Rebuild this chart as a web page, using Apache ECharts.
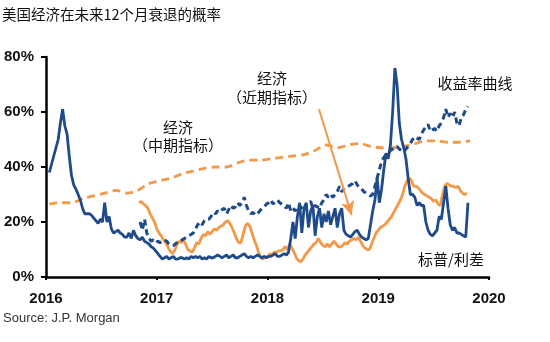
<!DOCTYPE html>
<html>
<head>
<meta charset="utf-8">
<script src="https://cdn.jsdelivr.net/npm/echarts@6/dist/echarts.min.js"></script>
<style>
  html, body { margin: 0; padding: 0; background: #fff; }
  #chart { width: 550px; height: 342px; }
</style>
</head>
<body>
<div id="chart"></div>
<script>
// Probability of a US recession within the next 12 months (%), sampled at regular steps (in years)

// 标普/利差 — equity and credit spread model
const spreadStart = 2016.03;
const spreadStep = 0.02;
const spreadValues = [
  38, 41, 44, 47, 50, 56, 61, 55, 52, 44, 37, 33.5, 32, 30, 28, 25, 23, 23, 23, 22.5,
  21.5, 20.5, 19.5, 21, 20, 27, 20, 22, 17.5, 16, 16.5, 17, 16, 15.5, 14.5, 14.5, 16, 14, 17, 15,
  14, 13.5, 14.5, 13, 12.5, 12, 11, 10.5, 9.5, 8.5, 7.5, 6.5, 7, 7.5, 6.5, 7, 7.5, 6.5, 6.5, 7,
  7, 6.5, 7, 6.5, 7.5, 7, 7.5, 7, 7.5, 6.5, 7, 6.5, 7.5, 7, 7, 7.5, 8, 7.5, 7, 7.5,
  8, 7, 7.5, 8, 7, 7, 7.5, 8, 8.5, 7.5, 7, 7.5, 7, 7.5, 8, 7.5, 7, 7.5, 7, 7.5,
  7.5, 8, 8.5, 7.5, 7.5, 8, 8.5, 8, 9, 14, 20, 14, 22, 27, 16, 25, 27, 18, 24, 26,
  15, 22, 25, 18, 23, 20, 24, 19, 22, 25, 18, 23, 25, 17, 15.5, 15, 14.5, 15.5, 16.5, 17,
  15.5, 14.5, 14, 13.5, 14, 19, 24, 28, 36, 27, 32, 39, 45, 43, 48, 60, 76, 70, 56, 50,
  47, 43, 36, 30, 30, 29, 26, 27, 26, 26, 20, 17, 15.5, 15, 16, 17, 22, 21, 27, 33,
  25, 19, 17, 18, 16, 16, 15.5, 15, 14.5, 27
];

// 收益率曲线 — yield curve model
const curveStart = 2016.85;
const curveStep = 0.02;
const curveValues = [
  20, 17, 21, 16, 14, 13, 13.5, 12.5, 13, 12.5, 13, 13.5, 13, 12, 11.5, 11.5, 12, 13, 13, 13.5,
  14, 14.5, 15, 15.5, 16, 17.5, 19, 20, 19, 20.5, 21, 21, 22, 23.5, 23, 24, 23.5, 24.5, 25, 23,
  24.5, 26, 25, 25.5, 27, 26, 27, 29, 26, 24, 23, 23.5, 22.5, 23, 24, 25, 25.5, 26.5, 27, 28,
  26.5, 27.5, 28, 27, 26.5, 26, 25, 27, 24, 25, 24, 26, 26, 25, 24, 26, 27, 27.5, 25, 26,
  25.5, 25, 27, 28, 30, 29, 30, 29, 30, 31, 33, 31, 32, 32.5, 33, 33.5, 34, 35, 33.5, 32.5,
  32, 31, 30.5, 30, 29.5, 30, 33, 36, 39, 42, 43.5, 44.5, 45, 46, 46.5, 47, 47.5, 46.5, 46, 45.5,
  46.5, 47.5, 48.5, 50, 51, 50.5, 50, 52, 53.5, 54.5, 55.5, 53, 53.5, 54, 53, 55, 56, 58, 61, 58,
  59.5, 58, 60, 56, 55, 58, 59, 61, 62
];

// 经济（近期指标） — near-term economic indicators
const nearStart = 2016.84;
const nearStep = 0.02;
const nearValues = [
  27, 27.5, 26.5, 26, 25, 23, 21.5, 20, 17.5, 16, 15, 13.5, 12.5, 11, 9.5, 8.5, 9.5, 11.5, 13, 12.5,
  13.5, 12, 10, 9.5, 9, 10.5, 12.5, 12, 14, 15.5, 15, 16.5, 15.5, 16.5, 17.5, 17, 18, 18.5, 19, 20,
  20.5, 19.5, 18, 16, 14, 12.5, 12.5, 15.5, 18.5, 19.5, 18.5, 16, 13.5, 11.5, 9, 7, 6.5, 7.5, 7, 8.5,
  8, 9, 9, 9.5, 9.5, 10, 11, 10, 12, 10.5, 9, 7, 6, 5.5, 6.5, 8, 9, 10, 11, 12,
  12.5, 14, 12.5, 11.5, 11, 12, 11, 12, 13, 12, 11, 11, 11.5, 12.5, 12, 13, 13.5, 14, 13.5, 14.5,
  13, 11.5, 10.5, 10, 10, 12, 14, 16, 17, 18, 18.5, 19, 20, 21, 22, 23.5, 25, 26.5, 28, 30,
  33, 35, 36, 35, 33, 33, 32.5, 31.5, 30.5, 30, 29.5, 29, 28.5, 27.5, 28, 26.5, 26, 30, 33, 34,
  33.5, 33, 33, 32.5, 33, 31.5, 30.5, 30, 30.5
];

// 经济（中期指标） — medium-term economic indicators
const midStart = 2016.03;
const midStep = 0.1;
const midValues = [
  26.5, 27, 27, 28.5, 29.5, 30.5, 31.5, 30.5, 31.5, 34, 35, 36, 37.5, 38.5, 39.5, 40, 40, 41.5, 42.5, 42.5,
  43, 43.5, 44, 44.5, 46, 48, 47, 48, 48.5, 47.5, 47, 47, 47.5, 48.5, 49.5, 49.5, 49, 49, 49.5
];

const yearTicks = [2016, 2017, 2018, 2019, 2020];
const pctTicks = [0, 20, 40, 60, 80];

const NAVY = '#1F4B8A';
const ORANGE = '#F2994A';

function toPairs(start, step, values) {
  return values.map((v, i) => [+(start + i * step).toFixed(3), v]);
}

const chart = echarts.init(document.getElementById('chart'), null, { renderer: 'canvas' });

const labelFont = { fontFamily: 'Liberation Sans, Arial, sans-serif', fontWeight: 'bold', fontSize: 15, color: '#111' };
const cjkFont = '"Noto Sans CJK SC", "Noto Sans", sans-serif';

function note(x, y, text) {
  return { type: 'text', x: x, y: y, style: { text: text, font: '15px ' + cjkFont, fill: '#111', textAlign: 'center', textVerticalAlign: 'middle' } };
}

chart.setOption({
  animation: false,
  backgroundColor: '#fff',
  title: {
    text: '美国经济在未来12个月衰退的概率',
    left: 2, top: 7, padding: 0,
    textStyle: { fontFamily: cjkFont, fontSize: 14.5, fontWeight: 'normal', color: '#111' }
  },
  grid: { left: 46, right: 61, top: 57, bottom: 65 },
  xAxis: {
    type: 'value',
    min: yearTicks[0], max: yearTicks[yearTicks.length - 1], interval: 1,
    axisLine: { show: true, lineStyle: { color: '#000', width: 2.5 } },
    axisTick: { show: true, length: 3, lineStyle: { color: '#000', width: 2 } },
    splitLine: { show: false },
    axisLabel: Object.assign({ margin: 14, formatter: v => String(v) }, labelFont)
  },
  yAxis: {
    type: 'value',
    min: pctTicks[0], max: pctTicks[pctTicks.length - 1], interval: 20,
    axisLine: { show: true, lineStyle: { color: '#000', width: 2.5 } },
    axisTick: { show: true, length: 5, lineStyle: { color: '#000', width: 2 } },
    splitLine: { show: false },
    axisLabel: Object.assign({ margin: 12, formatter: '{value}%' }, labelFont)
  },
  series: [
    {
      name: '经济（中期指标）', type: 'line', showSymbol: false, smooth: 0.3,
      data: toPairs(midStart, midStep, midValues),
      lineStyle: { color: ORANGE, width: 2.8, type: [8, 5] },
      z: 2
    },
    {
      name: '经济（近期指标）', type: 'line', showSymbol: false,
      data: toPairs(nearStart, nearStep, nearValues),
      lineStyle: { color: ORANGE, width: 2.8 },
      z: 3,
      markLine: {
        silent: true, animation: false,
        symbol: ['none', 'arrow'], symbolSize: [10, 14],
        label: { show: false },
        lineStyle: { color: ORANGE, width: 2, type: 'solid' },
        data: [[{ coord: [2018.465, 61] }, { coord: [2018.76, 22.5] }]]
      }
    },
    {
      name: '收益率曲线', type: 'line', showSymbol: false,
      data: toPairs(curveStart, curveStep, curveValues),
      lineStyle: { color: NAVY, width: 3, type: [6, 4] },
      z: 4
    },
    {
      name: '标普/利差', type: 'line', showSymbol: false,
      data: toPairs(spreadStart, spreadStep, spreadValues),
      lineStyle: { color: NAVY, width: 2.8 },
      z: 5
    }
  ],
  graphic: [
    note(178, 127, '经济'),
    note(178, 145, '（中期指标）'),
    note(272, 78, '经济'),
    note(272, 97, '（近期指标）'),
    note(475, 83, '收益率曲线'),
    note(451, 259, '标普/利差'),
    { type: 'text', x: 3, y: 318, style: { text: 'Source: J.P. Morgan', font: '13px "Liberation Sans", Arial, sans-serif', fill: '#333', textVerticalAlign: 'middle' } }
  ]
});
</script>
</body>
</html>
